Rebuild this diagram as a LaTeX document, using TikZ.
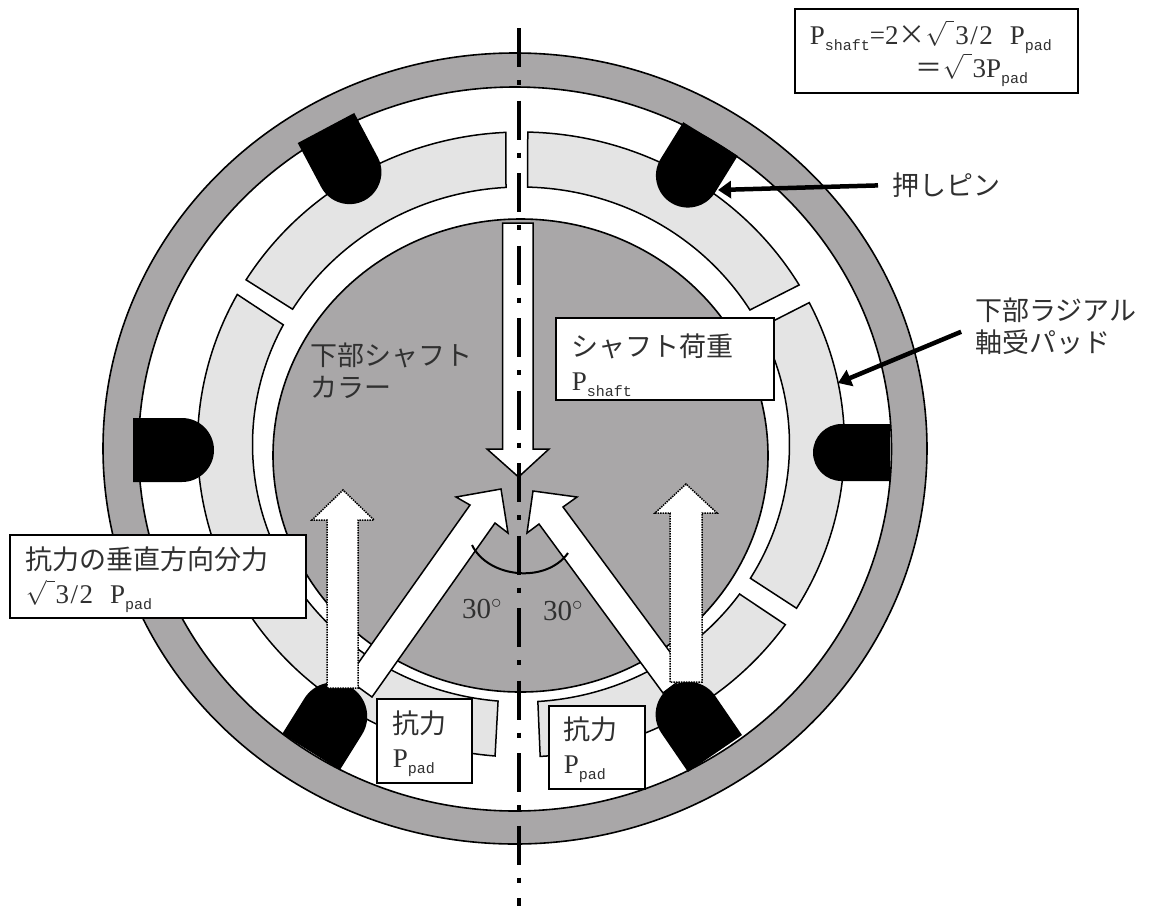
\documentclass[tikz,border=0pt]{standalone}
\usepackage{fontspec}
\setmainfont{Liberation Serif}
\newfontfamily\jp{Noto Sans CJK JP}
\newfontfamily\subfont{Liberation Mono}
\usetikzlibrary{arrows.meta}
\definecolor{metal}{HTML}{A9A7A8}
\definecolor{padgray}{HTML}{E4E4E4}
\definecolor{inktext}{HTML}{303030}
\newcommand{\subtxt}[1]{\raisebox{-6pt}{\fontsize{15}{15}\subfont #1}}
\newcommand{\rootsign}{\raisebox{10pt}[0pt][0pt]{$\sqrt{\hbox to 8pt{}}$}\kern1pt}
\newcommand{\threehalf}{3\kern1.5pt/\kern1.5pt2}
\newcommand{\padshape}[4]{\draw[padline] plot[domain=#1:#2, samples=60] ({521+323.5*cos(\x)},{444.5+312.5*sin(\x)}) -- plot[domain=#4:#3, samples=60] ({521+268.5*cos(\x)},{444.5+257.5*sin(\x)}) -- cycle;}
\newcommand{\pushpin}[5]{\fill[shift={(#1,#2)}, rotate=#3] (0,-#5) -- ({#4-#5},-#5) .. controls ({#4-0.45*#5},-#5) and (#4,{-0.55*#5}) .. (#4,0) .. controls (#4,{0.55*#5}) and ({#4-0.45*#5},#5) .. ({#4-#5},#5) -- (0,#5) -- cycle;}
\tikzset{
  padline/.style={draw=black, fill=padgray, line width=1.5pt},
  ringline/.style={draw=black, line width=1.6pt},
  forcearrow/.style={draw=black, fill=white, line width=1.5pt},
  partarrow/.style={draw=black, fill=white, line width=1.5pt, densely dotted},
  leader/.style={line width=4.5pt, -{Triangle[length=13pt,width=17pt]}},
  labelbox/.style={draw=black, fill=white, line width=1.6pt, anchor=north west, align=left, inner ysep=0pt, text=inktext, font=\fontsize{27}{34}\selectfont},
  plainlabel/.style={inner sep=0pt, align=left, text=inktext, font=\fontsize{27}{32}\selectfont}
}
\begin{document}
\begin{tikzpicture}[x=1pt, y=-1pt]
\useasboundingbox (0,0) rectangle (1152,906);
% Housing
    \draw[ringline, fill=metal] (515,448.5) ellipse[x radius=412, y radius=395.5];
    \draw[ringline, fill=white] (515,449) ellipse[x radius=376.5, y radius=362];
% Pads
    \padshape{267.3}{211.8}{266.8}{211.7}
    \padshape{271.2}{329.3}{271.4}{328.5}
    \padshape{333}{391.6}{333}{391.3}
    \padshape{35.2}{86.6}{35.5}{86.4}
    \padshape{94.6}{147.5}{94.9}{147.5}
    \padshape{152}{208.7}{152}{207.7}
% Collar
    \draw[ringline, fill=metal] (520.5,455.5) ellipse[x radius=247.5, y radius=236.5];
% Pad forces
    \draw[forcearrow] (347,679) -- (470,505) -- (456,497) -- (501,489) -- (508,533) -- (495,523) -- (372,697) -- cycle;
    \draw[forcearrow] (687,675) -- (563,507) -- (577,497) -- (533,491) -- (527,533) -- (539,524) -- (663,693) -- cycle;
% Pins
    \pushpin{326}{128}{-62}{82}{32}
    \pushpin{710.5}{139}{-121.7}{75}{32}
    \pushpin{890}{452.5}{180}{77}{28.5}
    \pushpin{133}{450}{0}{81}{32}
    \pushpin{311}{752}{58}{76}{34}
    \pushpin{715}{753.5}{124.4}{80}{32.7}
% Vertical components
    \draw[partarrow] (327,688) -- (327,520) -- (312,520) -- (343,490) -- (374,520) -- (358,520) -- (358,688) -- cycle;
    \draw[partarrow] (670,682) -- (670,513) -- (655,513) -- (686,484) -- (717,513) -- (702,513) -- (702,682) -- cycle;
% Shaft load
    \draw[forcearrow] (502.5,223) -- (502.5,449) -- (487,449) -- (518.5,477) -- (549,449) -- (533,449) -- (533,223) -- cycle;
% Centre line
    \draw[line width=4.5pt, dash pattern=on 39pt off 13pt on 5pt off 15.5pt] (519,28) -- (519,906);
% Angle
    \draw[line width=2pt] (472,545) .. controls (488,578) and (546,584) .. (568,553);
    \node[inner sep=0pt, anchor=base west, text=inktext, font=\fontsize{29}{33}\selectfont] (angleleft) at (462,618) {30$^{\circ}$};
    \node[inner sep=0pt, anchor=base west, text=inktext, font=\fontsize{29}{33}\selectfont] (angleright) at (543,620) {30$^{\circ}$};
% Labels
    \node[labelbox, minimum width=283pt, minimum height=84pt, inner xsep=15pt, text width=253pt, font=\fontsize{27}{33}\selectfont] (formula) at (794,8) {\rule{0pt}{29pt}P\subtxt{shaft}=2{\jp ×}\rootsign\threehalf\kern17pt P\subtxt{pad}\\\hspace*{106pt}{\jp ＝}\rootsign 3P\subtxt{pad}};
    \node[labelbox, minimum width=218pt, minimum height=82pt, inner xsep=16pt, text width=186pt] (shaftbox) at (555,317) {\rule{0pt}{35pt}{\jp シャフト荷重}\\P\subtxt{shaft}};
    \node[labelbox, minimum width=296pt, minimum height=83pt, inner xsep=16pt, text width=264pt] (verticalbox) at (9,534) {\rule{0pt}{30pt}{\jp 抗力の垂直方向分力}\\\rootsign\threehalf\kern17pt P\subtxt{pad}};
    \node[labelbox, minimum width=95pt, minimum height=84pt, inner xsep=16pt, text width=63pt] (padleft) at (376,698) {\rule{0pt}{29pt}{\jp 抗力}\\P\subtxt{pad}};
    \node[labelbox, minimum width=96pt, minimum height=83pt, inner xsep=15pt, text width=66pt] (padright) at (548,705) {\rule{0pt}{28pt}{\jp 抗力}\\P\subtxt{pad}};
    \node[plainlabel, anchor=west] (collarlabel) at (310,371) {{\jp 下部シャフト}\\{\jp カラー}};
    \node[plainlabel, anchor=west] (pinlabel) at (892,185) {\jp 押しピン};
    \node[plainlabel, anchor=west] (radiallabel) at (975,326) {{\jp 下部ラジアル}\\{\jp 軸受パッド}};
% Leaders
    \coordinate (pintip) at (718,190);
    \coordinate (padtip) at (838,383);
    \draw[leader, shorten <=14pt] (pinlabel.west) -- (pintip);
    \draw[leader, shorten <=15pt] (radiallabel.west) -- (padtip);
\end{tikzpicture}
\end{document}
